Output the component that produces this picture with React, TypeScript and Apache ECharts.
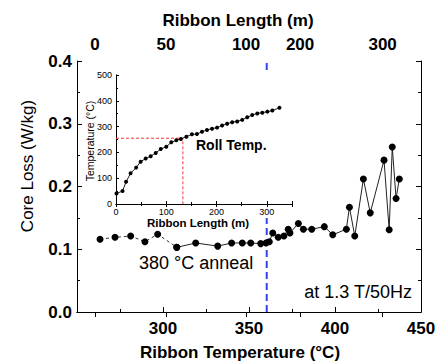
import React, { useEffect, useRef } from "react";
import * as echarts from "echarts";

// Main chart: core loss vs ribbon temperature
const tempC = [263.4, 272.1, 281.2, 289.5, 296.9, 308.0, 319.0, 331.8, 339.9, 346.1, 351.0, 356.8, 359.9, 361.8, 363.8, 367.0, 370.3, 372.8, 373.8, 378.7, 381.6, 386.5, 393.8, 398.7, 406.6, 408.4, 411.5, 416.5, 420.5, 428.5, 431.5, 433.3, 435.5, 437.4];
const coreLoss = [0.116, 0.119, 0.121, 0.112, 0.124, 0.103, 0.110, 0.105, 0.110, 0.110, 0.110, 0.109, 0.110, 0.112, 0.126, 0.119, 0.121, 0.132, 0.126, 0.141, 0.132, 0.132, 0.136, 0.123, 0.132, 0.167, 0.121, 0.212, 0.158, 0.242, 0.131, 0.263, 0.181, 0.212];
const dashedCount = 6;

// Top axis: ribbon length tick labels at corresponding temperatures
const lengthTickTemps = [260.5, 301.7, 348.3, 379.7, 427.7];
const lengthTickLabels = ["0", "50", "100", "200", "300"];

// Anneal marker
const annealTemp = 360.3;

// Inset: roll temperature vs ribbon length
const rollLength = [1, 13, 20, 29, 40, 49, 59, 69, 79, 89, 100, 110, 120, 129, 140, 151, 161, 171, 181, 191, 201, 211, 221, 231, 241, 251, 261, 271, 281, 291, 301, 311, 325];
const rollTemp = [41, 50, 86, 119, 141, 164, 176, 185, 198, 213, 222, 239, 247, 252, 261, 270, 271, 280, 287, 292, 296, 304, 311, 317, 320, 326, 336, 345, 351, 354, 358, 362, 373];
const markLength = 133;
const markTemp = 255;

const FONT = "Liberation Sans";

export default function App() {
  const ref = useRef<HTMLDivElement>(null);
  useEffect(() => {
    document.body.style.margin = "0";
    if (!ref.current) return;
    const chart = echarts.init(ref.current, null, { renderer: "svg" });
    const mainPts = tempC.map((t, i) => [t, coreLoss[i]]);
    const inset = rollLength.map((l, i) => [l, rollTemp[i]]);
    const axisLine = { show: true, lineStyle: { color: "#000", width: 1 } };
    const mainLabel = { color: "#000", fontFamily: FONT, fontWeight: "bold" as const, fontSize: 17 };
    const insetLabel = { color: "#000", fontFamily: FONT, fontSize: 9 };

    chart.setOption({
      animation: false,
      backgroundColor: "#fff",
      grid: [
        { left: 77, top: 61, width: 344, height: 251, containLabel: false },
        { left: 116, top: 75, width: 176, height: 129, containLabel: false, z: 10 },
      ],
      xAxis: [
        {
          type: "value", gridIndex: 0, min: 250, max: 450, interval: 50, position: "bottom",
          axisLine, splitLine: { show: false },
          axisTick: { inside: true, length: 5, lineStyle: { color: "#000" } },
          minorTick: { show: true, splitNumber: 2, length: 3, lineStyle: { color: "#000" } },
          axisLabel: { ...mainLabel, margin: 8, showMinLabel: false },
        },
        {
          type: "value", gridIndex: 0, min: 250, max: 450, position: "top",
          axisLine, splitLine: { show: false },
          axisTick: { inside: true, length: 5, lineStyle: { color: "#000" }, customValues: lengthTickTemps },
          axisLabel: {
            ...mainLabel, margin: 8, customValues: lengthTickTemps,
            formatter: (v: number) => {
              let best = 0;
              lengthTickTemps.forEach((t, i) => { if (Math.abs(t - v) < Math.abs(lengthTickTemps[best] - v)) best = i; });
              return lengthTickLabels[best];
            },
          },
        },
        {
          type: "value", gridIndex: 1, min: 0, max: 350, interval: 100, position: "bottom", z: 10,
          axisLine, splitLine: { show: false },
          axisTick: { inside: true, length: 3, lineStyle: { color: "#000" } },
          minorTick: { show: true, splitNumber: 2, length: 2, lineStyle: { color: "#000" } },
          axisLabel: { ...insetLabel, margin: 3, showMaxLabel: false },
        },
        {
          type: "value", gridIndex: 1, min: 0, max: 350, interval: 100, position: "top", z: 10,
          axisLine, splitLine: { show: false },
          axisTick: { inside: true, length: 3, lineStyle: { color: "#000" } },
          minorTick: { show: true, splitNumber: 2, length: 2, lineStyle: { color: "#000" } },
          axisLabel: { show: false },
        },
      ],
      yAxis: [
        {
          type: "value", gridIndex: 0, min: 0, max: 0.4, interval: 0.1, position: "left",
          axisLine, splitLine: { show: false },
          axisTick: { inside: true, length: 5, lineStyle: { color: "#000" } },
          minorTick: { show: true, splitNumber: 2, length: 3, lineStyle: { color: "#000" } },
          axisLabel: { ...mainLabel, margin: 5, formatter: (v: number) => v.toFixed(1) },
        },
        {
          type: "value", gridIndex: 0, min: 0, max: 0.4, interval: 0.1, position: "right",
          axisLine, splitLine: { show: false },
          axisTick: { inside: true, length: 5, lineStyle: { color: "#000" } },
          minorTick: { show: true, splitNumber: 2, length: 3, lineStyle: { color: "#000" } },
          axisLabel: { show: false },
        },
        {
          type: "value", gridIndex: 1, min: 0, max: 500, interval: 100, position: "left", z: 10,
          axisLine, splitLine: { show: false },
          axisTick: { inside: true, length: 3, lineStyle: { color: "#000" } },
          minorTick: { show: true, splitNumber: 2, length: 2, lineStyle: { color: "#000" } },
          axisLabel: { ...insetLabel, margin: 4 },
        },
        {
          type: "value", gridIndex: 1, min: 0, max: 500, interval: 100, position: "right", z: 10,
          axisLine, splitLine: { show: false },
          axisTick: { show: false },
          axisLabel: { show: false },
        },
      ],
      series: [
        {
          type: "line", xAxisIndex: 0, yAxisIndex: 0, z: 1, silent: true,
          data: [[annealTemp, 0], [annealTemp, 0.4]], symbol: "none",
          lineStyle: { color: "#3344ee", width: 2, type: [7, 4] },
        },
        {
          type: "line", xAxisIndex: 0, yAxisIndex: 0, z: 3,
          data: mainPts.slice(0, dashedCount), symbol: "circle", symbolSize: 7,
          itemStyle: { color: "#000" }, lineStyle: { color: "#333", width: 1, type: [3, 3] },
        },
        {
          type: "line", xAxisIndex: 0, yAxisIndex: 0, z: 3,
          data: mainPts.slice(dashedCount - 1), symbol: "circle", symbolSize: 7,
          itemStyle: { color: "#000" }, lineStyle: { color: "#222", width: 1 },
        },
        {
          type: "line", xAxisIndex: 2, yAxisIndex: 2, z: 11, silent: true,
          data: [[0, markTemp], [markLength, markTemp], [markLength, 0]], symbol: "none",
          lineStyle: { color: "#ff3333", width: 1, type: [3, 2] },
        },
        {
          type: "line", xAxisIndex: 2, yAxisIndex: 2, z: 12,
          data: inset, symbol: "circle", symbolSize: 4,
          itemStyle: { color: "#000" }, lineStyle: { color: "#222", width: 1 },
        },
      ],
      graphic: [
        { type: "rect", z: 5, shape: { x: 82, y: 70, width: 216, height: 148 }, style: { fill: "#fff" } },
        { type: "text", z: 20, x: 238, y: 20, style: { text: "Ribbon Length (m)", fontFamily: FONT, fontWeight: "bold", fontSize: 17, fill: "#000", align: "center", verticalAlign: "middle" } },
        { type: "text", z: 20, x: 240, y: 352, style: { text: "Ribbon Temperature (°C)", fontFamily: FONT, fontWeight: "bold", fontSize: 17, fill: "#000", align: "center", verticalAlign: "middle" } },
        { type: "text", z: 20, x: 27, y: 166, rotation: Math.PI / 2, style: { text: "Core Loss (W/kg)", fontFamily: FONT, fontSize: 17, fill: "#000", align: "center", verticalAlign: "middle" } },
        { type: "text", z: 20, x: 139, y: 263, style: { text: "380 °C anneal", fontFamily: FONT, fontSize: 18, fill: "#000", align: "left", verticalAlign: "middle" } },
        { type: "text", z: 20, x: 412, y: 292, style: { text: "at 1.3 T/50Hz", fontFamily: FONT, fontSize: 18, fill: "#000", align: "right", verticalAlign: "middle" } },
        { type: "text", z: 20, x: 196, y: 145, style: { text: "Roll Temp.", fontFamily: FONT, fontWeight: "bold", fontSize: 14, fill: "#000", align: "left", verticalAlign: "middle" } },
        { type: "text", z: 20, x: 198, y: 223, style: { text: "Ribbon Length (m)", fontFamily: FONT, fontWeight: "bold", fontSize: 11.5, fill: "#000", align: "center", verticalAlign: "middle" } },
        { type: "text", z: 20, x: 90, y: 141, rotation: Math.PI / 2, style: { text: "Temperature (°C)", fontFamily: FONT, fontSize: 10.5, fill: "#000", align: "center", verticalAlign: "middle" } },
      ],
    });
    return () => chart.dispose();
  }, []);
  return <div ref={ref} style={{ width: 442, height: 363 }} />;
}
